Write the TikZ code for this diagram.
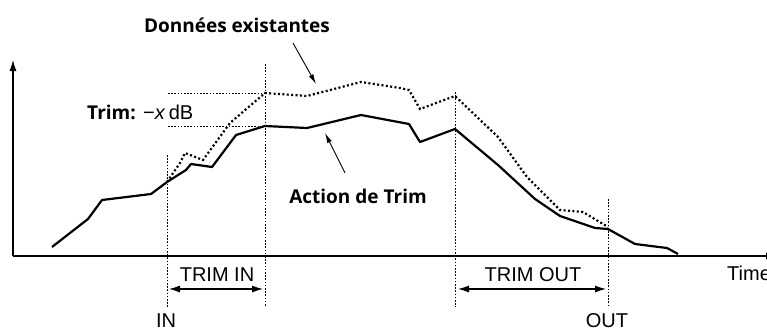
\documentclass[tikz,border=0pt]{standalone}
\usepackage{fontspec}
\setmainfont{Liberation Sans}
\newfontfamily\labfont{Open Sans}
\usetikzlibrary{arrows.meta}
\tikzset{
  axis/.style={line width=1.1pt, -{Latex[length=11pt,width=7pt]}},
  guide/.style={line width=0.8pt, dash pattern=on 1.6pt off 1.6pt},
  trimline/.style={line width=2.2pt, line join=round},
  olddata/.style={line width=2.2pt, dash pattern=on 2pt off 2.4pt},
  span/.style={line width=1.1pt, {Latex[length=11pt,width=7pt]}-{Latex[length=11pt,width=7pt]}},
  callout/.style={line width=0.9pt, -{Latex[length=10pt,width=5pt]}},
  lab/.style={font=\fontsize{20}{22}\selectfont, inner sep=0pt},
  blab/.style={font=\labfont\bfseries\fontsize{19}{21}\selectfont, inner sep=0pt}
}
\begin{document}
\begin{tikzpicture}[x=1pt,y=-1pt]
\useasboundingbox (0,0) rectangle (767,329);
% axes
\coordinate (origin) at (13,256);
\coordinate (ytop) at (13,60);
\coordinate (xend) at (777,256);
\draw[axis] (origin) -- (ytop);
\draw[axis] (origin) -- (xend);
% guide lines
\coordinate (inTop) at (167,155);   \coordinate (inBot) at (167,307);
\coordinate (tiTop) at (265,64);    \coordinate (tiBot) at (265,307);
\coordinate (toTop) at (455,92);    \coordinate (toBot) at (455,307);
\coordinate (outTop) at (608,199);  \coordinate (outBot) at (608,307);
\draw[guide] (inTop) -- (inBot);
\draw[guide] (tiTop) -- (tiBot);
\draw[guide] (toTop) -- (toBot);
\draw[guide] (outTop) -- (outBot);
\coordinate (hA1) at (168,93);  \coordinate (hA2) at (265,93);
\coordinate (hB1) at (168,126); \coordinate (hB2) at (265,126);
\draw[guide] (hA1) -- (hA2);
\draw[guide] (hB1) -- (hB2);
% existing data (dotted)
\draw[olddata] (167,182) -- (180,163) -- (185,153) -- (203,160) -- (230,123) -- (265,93) -- (307,96) -- (361,82) -- (400,88) -- (409,90) -- (420,109) -- (455,96) -- (498,137) -- (527,177) -- (560,210) -- (583,212) -- (608,227);
% trim action (solid)
\draw[trimline] (52,247) -- (88,219) -- (102,200) -- (151,194) -- (167,182) -- (186,170) -- (191,164) -- (212,167) -- (236,135) -- (265,126) -- (307,128) -- (361,115) -- (409,124) -- (420,142) -- (455,129) -- (498,165) -- (535,199) -- (560,216) -- (595,228) -- (608,229) -- (635,244) -- (667,248) -- (678,254);
% labels
\node[blab] (donnees) at (237,25) {Données existantes};
\coordinate (dTail) at (293,43);
\coordinate (dHead) at (316,84);
\draw[callout] (dTail) -- (dHead);
\node[lab, anchor=west] (trimdb) at (87,112) {{\labfont\bfseries\fontsize{19}{21}\selectfont Trim:} −\textit{x}\,dB};
\node[blab] (action) at (358,196) {Action de Trim};
\coordinate (aTail) at (345,173);
\coordinate (aHead) at (325,133);
\draw[callout] (aTail) -- (aHead);
% spans
\coordinate (tiL) at (169,289); \coordinate (tiR) at (263,289);
\draw[span] (tiL) -- (tiR);
\node[lab] (trimin) at (217,275) {TRIM IN};
\coordinate (toL) at (458,289); \coordinate (toR) at (606,289);
\draw[span] (toL) -- (toR);
\node[lab] (trimout) at (533,275) {TRIM OUT};
\node[lab, anchor=base] (inlab) at (166,327) {IN};
\node[lab, anchor=base] (outlab) at (607,327) {OUT};
\node[lab, anchor=west] (time) at (727,273) {Time};
\end{tikzpicture}
\end{document}
